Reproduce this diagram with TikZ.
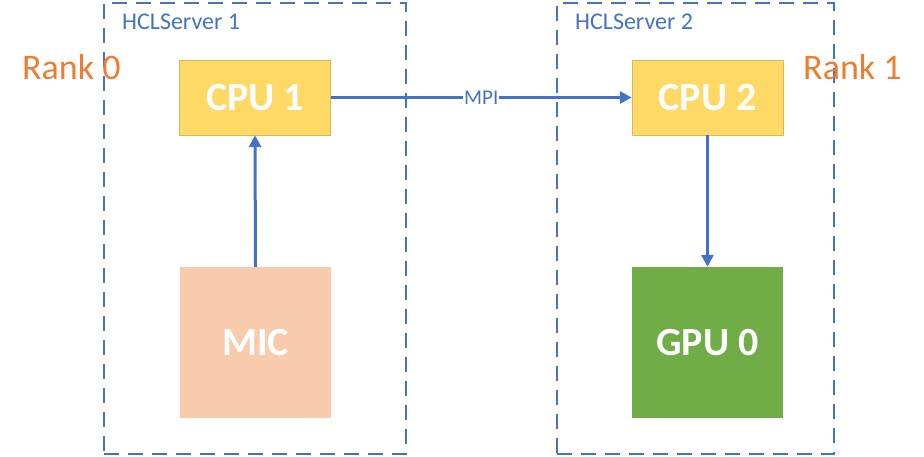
\documentclass[tikz,border=0pt]{standalone}
\usepackage{fontspec}
\setmainfont{Carlito}
\usepackage{xcolor}
\usetikzlibrary{arrows.meta}

\definecolor{hclblue}{HTML}{4472C4}
\definecolor{cpuyellow}{HTML}{FFD966}
\definecolor{micpeach}{HTML}{F8CBAD}
\definecolor{gpugreen}{HTML}{70AD47}
\definecolor{rankorange}{HTML}{ED7D31}

\begin{document}
\begin{tikzpicture}[x=1pt, y=-1pt,
	server/.style = {draw = hclblue, line width = 2pt, dash pattern = on 15pt off 9pt, inner sep = 0pt},
	device/.style = {inner sep = 0pt, minimum width = 151pt, text = white, font = \fontsize{40}{44}\selectfont\bfseries},
	link/.style = {draw = hclblue, line width = 3pt, -{Triangle[width = 12pt, length = 12pt]}}]
					\def\boxH{75pt};
					\def\devH{151pt};

					\useasboundingbox (0,0) rectangle (924,457);

					\begin{scope}
						\node [server, minimum width = 302pt, minimum height = 451pt] (srvA) at (255,228.5) {};
						\node [server, minimum width = 277pt, minimum height = 451pt] (srvB) at (695.5,228.5) {};
						\node [anchor = west, text = hclblue, font = \fontsize{24}{28}\selectfont, inner sep = 0pt] (srvAlabel) at (122,22) {HCLServer 1};
						\node [anchor = west, text = hclblue, font = \fontsize{24}{28}\selectfont, inner sep = 0pt] (srvBlabel) at (575,22) {HCLServer 2};
					\end{scope}

					\begin{scope}
						\node [device, fill = cpuyellow, draw = cpuyellow!85!black, line width = 0.4pt, minimum height = \boxH] (cpuA) at (255,97.5) {CPU 1};
						\node [device, fill = cpuyellow, draw = cpuyellow!85!black, line width = 0.4pt, minimum height = \boxH] (cpuB) at (707.5,97.5) {CPU 2};
						\node [device, fill = micpeach, minimum height = \devH] (mic) at (255.5,342.5) {MIC};
						\node [device, fill = gpugreen, minimum height = \devH] (gpu) at (707.5,342.5) {GPU 0};
					\end{scope}

					\begin{scope}[text = rankorange, font = \fontsize{36}{40}\selectfont]
						\node [anchor = west, inner sep = 0pt] (rankA) at (22,67) {Rank 0};
						\node [anchor = west, inner sep = 0pt] (rankB) at (803,67) {Rank 1};
					\end{scope}

					\begin{scope}
						\draw [link] (cpuA.east) -- (cpuB.west) node [midway, fill = white, inner sep = 1pt, text = hclblue, font = \fontsize{21}{24}\selectfont] (mpi) {MPI};
						\draw [link] (mic.north) -- (cpuA.south);
						\draw [link] (cpuB.south) -- (gpu.north);
					\end{scope}

				\end{tikzpicture}
\end{document}
